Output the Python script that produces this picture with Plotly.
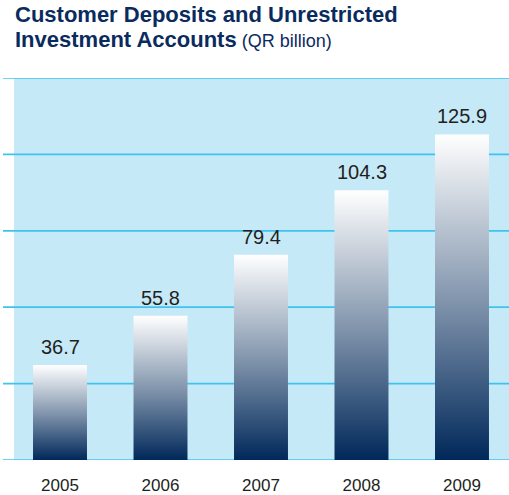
import plotly.graph_objects as go

# ---- data ----
years = [2005, 2006, 2007, 2008, 2009]
year_labels = ["2005", "2006", "2007", "2008", "2009"]
deposits = [36.7, 55.8, 79.4, 104.3, 125.9]
value_labels = ["36.7", "55.8", "79.4", "104.3", "125.9"]

# ---- layout constants ----
W, H = 509, 495
M_L, M_R, M_T, M_B = 3, 0, 78, 33
PLOT_H = H - M_T - M_B
PLOT_W = W - M_L - M_R
Y_MAX = 147.7
N_GRID = 5
BAR_W = 0.537
X_RANGE = [2004.4328, 2009.4677]

FONT = "Liberation Sans, Arial, Helvetica, sans-serif"
NAVY = "#0a2b5e"
TEXT = "#231f20"
BG = "#c6e9f8"
GRID = "#3ec3ef"


def py(px_from_top):
    """pixel (from top of page) -> paper y"""
    return (H - M_B - px_from_top) / PLOT_H


def px(px_from_left):
    return (px_from_left - M_L) / PLOT_W


fig = go.Figure()

# bars with vertical gradient
for yr, v in zip(years, deposits):
    x0, x1 = yr - BAR_W / 2, yr + BAR_W / 2
    fig.add_trace(go.Scatter(
        x=[x0, x1, x1, x0, x0],
        y=[0, 0, v, v, 0],
        mode="lines",
        fill="toself",
        line=dict(width=0, color="rgba(0,0,0,0)"),
        fillgradient=dict(
            type="vertical",
            colorscale=[[0, "#00285a"], [0.5, "#8497ae"], [1, "#ffffff"]],
        ),
        hoverinfo="skip",
        showlegend=False,
    ))

shapes = [
    dict(type="rect", xref="paper", yref="paper",
         x0=px(14), x1=1, y0=0, y1=1,
         fillcolor=BG, line=dict(width=0), layer="below"),
]
for i in range(N_GRID + 1):
    gy = Y_MAX * i / N_GRID
    shapes.append(dict(type="line", xref="paper", yref="y",
                       x0=0, x1=1, y0=gy, y1=gy,
                       line=dict(color=GRID, width=1.7), layer="below"))

annotations = []
for yr, v, lab in zip(years, deposits, value_labels):
    annotations.append(dict(
        x=yr, y=v, xref="x", yref="y", text=lab, showarrow=False,
        xanchor="center", yanchor="bottom", yshift=5,
        font=dict(family=FONT, size=20, color=TEXT),
    ))

annotations.append(dict(
    x=px(13), y=py(29), xref="paper", yref="paper",
    xanchor="left", yanchor="bottom", showarrow=False,
    text="<b>Customer Deposits and Unrestricted</b>",
    font=dict(family=FONT, size=22, color=NAVY),
))
annotations.append(dict(
    x=px(13), y=py(54), xref="paper", yref="paper",
    xanchor="left", yanchor="bottom", showarrow=False,
    text="<b>Investment Accounts</b><span style='font-size:18px'> (QR billion)</span>",
    font=dict(family=FONT, size=22, color=NAVY),
))

fig.update_layout(
    width=W, height=H,
    margin=dict(l=M_L, r=M_R, t=M_T, b=M_B, pad=0),
    paper_bgcolor="white",
    plot_bgcolor="rgba(0,0,0,0)",
    shapes=shapes,
    annotations=annotations,
    showlegend=False,
    xaxis=dict(
        range=X_RANGE, tickmode="array", tickvals=years, ticktext=year_labels,
        showgrid=False, zeroline=False, showline=False,
        ticks="outside", ticklen=10, tickcolor="rgba(0,0,0,0)",
        tickfont=dict(family=FONT, size=17, color=TEXT),
        fixedrange=True,
    ),
    yaxis=dict(
        range=[0, Y_MAX], showgrid=False, zeroline=False, showline=False,
        showticklabels=False, ticks="", fixedrange=True,
    ),
)

fig.write_html("out.html")
